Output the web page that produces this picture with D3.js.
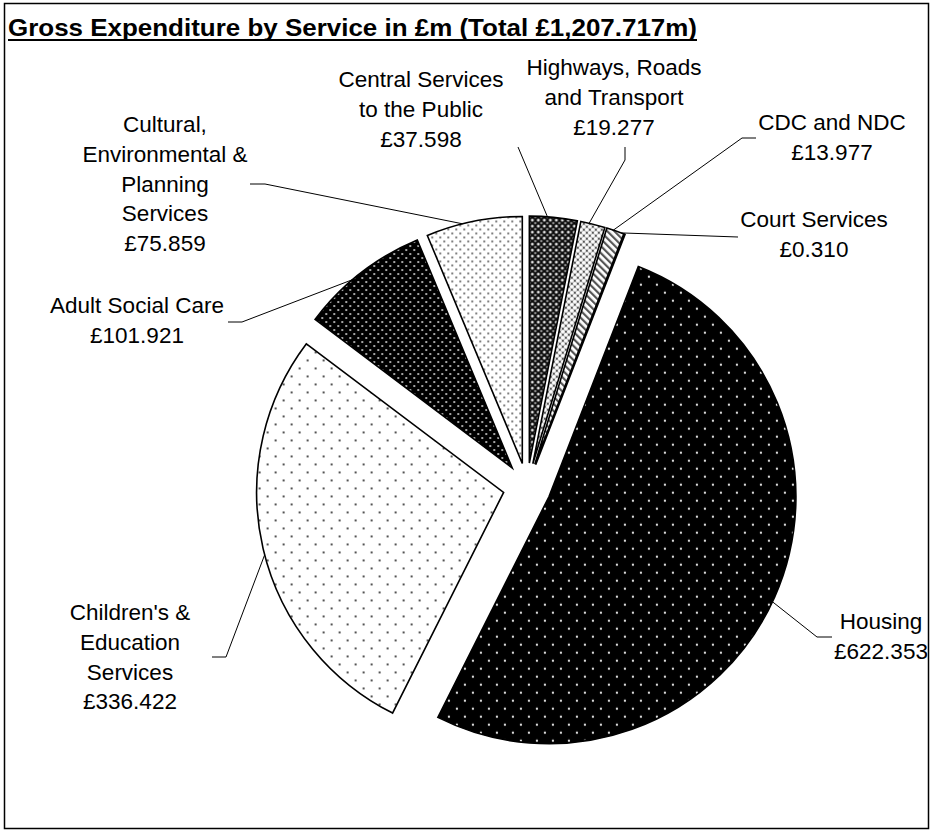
<!DOCTYPE html>
<html>
<head>
<meta charset="utf-8">
<script src="https://cdn.jsdelivr.net/npm/d3@7"></script>
<style>
  body { margin: 0; background: #fff; }
  svg { display: block; }
  text { font-family: "Liberation Sans", Arial, Helvetica, sans-serif; fill: #000; }
</style>
</head>
<body>
<svg id="chart" width="933" height="833"></svg>
<script>
// ---- data -------------------------------------------------------------
const services = [
  "Central Services to the Public",
  "Highways, Roads and Transport",
  "CDC and NDC",
  "Court Services",
  "Housing",
  "Children's & Education Services",
  "Adult Social Care",
  "Cultural, Environmental & Planning Services"
];
const amounts = [37.598, 19.277, 13.977, 0.310, 622.353, 336.422, 101.921, 75.859];
const labelLines = [
  ["Central Services", "to the Public"],
  ["Highways, Roads", "and Transport"],
  ["CDC and NDC"],
  ["Court Services"],
  ["Housing"],
  ["Children's &", "Education", "Services"],
  ["Adult Social Care"],
  ["Cultural,", "Environmental &", "Planning", "Services"]
];
const titleText = "Gross Expenditure by Service in £m (Total £1,207.717m)";

// ---- layout -----------------------------------------------------------
const W = 933, H = 833;
const cx = 527, cy = 487, R = 247, EXPLODE = 24;
const fontSize = 22.5, lineH = 29.8;
const fillIds = ["pCentral", "pHighways", "pStripes", "pCourt", "pHousing", "pChildren", "pAdult", "pCultural"];
// label block: centre x, first baseline y
const labelAt = [[421, 87], [614, 75], [832, 130], [814, 227], [881, 629], [130, 620], [137, 313], [165, 132]];
// leader line: angular nudge of the anchor (degrees) and the bend points toward the label
const leaderNudge = [-1.4, -0.9, -0.5, -0.9, 1.2, -1.5, -2.5, -2.7];
const leaderBends = [
  [[518, 147]],
  [[625, 160], [625, 147]],
  [[742, 138], [756, 138]],
  [[738, 237]],
  [[817, 637], [832, 637]],
  [[226, 657], [212, 657]],
  [[242, 322], [228, 322]],
  [[265, 184], [250, 184]]
];

const svg = d3.select("#chart");
svg.append("rect").attr("width", W).attr("height", H).attr("fill", "#fff");

// ---- fill patterns ----------------------------------------------------
const defs = svg.append("defs");
function pattern(id, w, h, bg) {
  const p = defs.append("pattern").attr("id", id).attr("patternUnits", "userSpaceOnUse")
    .attr("width", w).attr("height", h);
  p.append("rect").attr("width", w).attr("height", h).attr("fill", bg);
  return p;
}
function dots(p, pts, r, color) {
  pts.forEach(([x, y]) => p.append("circle").attr("cx", x).attr("cy", y).attr("r", r).attr("fill", color));
}
// wide confetti
dots(pattern("pHousing", 16, 16, "#000"), [[4, 4], [12, 12]], 1.15, "#e6e6e6");
dots(pattern("pChildren", 16, 16, "#fff"), [[4, 4], [12, 12]], 1.1, "#2a2a2a");
// fine confetti
dots(pattern("pAdult", 8, 8, "#000"), [[2, 2], [6, 6]], 1.0, "#dcdcdc");
dots(pattern("pCultural", 8, 8, "#fff"), [[2, 2], [6, 6]], 1.0, "#555");
// diamond lattices
dots(pattern("pCentral", 6, 6, "#0a0a0a"), [[3, 3]], 1.5, "#e0e0e0");
dots(defs.select("#pCentral"), [[0, 0], [6, 0], [0, 6], [6, 6]], 1.3, "#8a8a8a");
dots(pattern("pHighways", 6, 6, "#555"), [[0, 0], [6, 0], [0, 6], [6, 6], [3, 3]], 2.1, "#fff");
// diagonal stripes
const stripes = pattern("pStripes", 5, 5, "#fff").attr("patternTransform", "rotate(-45)");
stripes.append("rect").attr("x", 0).attr("y", 0).attr("width", 2.2).attr("height", 5).attr("fill", "#555");
pattern("pCourt", 4, 4, "#fff");

// ---- pie --------------------------------------------------------------
const pie = d3.pie().value(d => d).sort(null).startAngle(0).endAngle(2 * Math.PI);
const arcs = pie(amounts);
const arc = d3.arc().innerRadius(0).outerRadius(R);
const mid = d => (d.startAngle + d.endAngle) / 2;

const g = svg.append("g").attr("transform", `translate(${cx},${cy})`);
g.selectAll("path.slice").data(arcs).join("path")
  .attr("class", "slice")
  .attr("transform", d => `translate(${Math.sin(mid(d)) * EXPLODE},${-Math.cos(mid(d)) * EXPLODE})`)
  .attr("d", arc)
  .attr("fill", (d, i) => `url(#${fillIds[i]})`)
  .attr("stroke", "#000")
  .attr("stroke-width", 1.6)
  .attr("stroke-linejoin", "miter");

// ---- leader lines -----------------------------------------------------
const line = d3.line();
svg.selectAll("path.leader").data(arcs).join("path")
  .attr("class", "leader")
  .attr("d", (d, i) => {
    const m = mid(d), a = m + leaderNudge[i] * Math.PI / 180;
    const ax = cx + Math.sin(m) * EXPLODE + Math.sin(a) * R;
    const ay = cy - Math.cos(m) * EXPLODE - Math.cos(a) * R;
    return line([[ax, ay], ...leaderBends[i]]);
  })
  .attr("fill", "none")
  .attr("stroke", "#000")
  .attr("stroke-width", 1);

// ---- labels -----------------------------------------------------------
const fmt = d3.format(",.3f");
const labels = svg.selectAll("text.label").data(arcs).join("text")
  .attr("class", "label")
  .attr("text-anchor", "middle")
  .attr("font-size", fontSize)
  .attr("x", (d, i) => labelAt[i][0])
  .attr("y", (d, i) => labelAt[i][1]);
labels.each(function (d, i) {
  const t = d3.select(this);
  const lines = [...labelLines[i], "£" + fmt(d.data)];
  lines.forEach((s, k) => {
    t.append("tspan").attr("x", labelAt[i][0]).attr("y", labelAt[i][1] + k * lineH).text(s);
  });
});

// ---- title and frame --------------------------------------------------
const title = svg.append("text")
  .attr("x", 8).attr("y", 36)
  .attr("font-size", 24).attr("font-weight", "bold")
  .attr("textLength", 689).attr("lengthAdjust", "spacingAndGlyphs")
  .text(titleText);
const tb = title.node().getBBox();
svg.append("line")
  .attr("x1", tb.x).attr("x2", tb.x + tb.width)
  .attr("y1", 40).attr("y2", 40)
  .attr("stroke", "#000").attr("stroke-width", 2);

svg.append("rect")
  .attr("x", 4.5).attr("y", 3.5).attr("width", 924).attr("height", 825)
  .attr("fill", "none").attr("stroke", "#000").attr("stroke-width", 1.5);
</script>
</body>
</html>
